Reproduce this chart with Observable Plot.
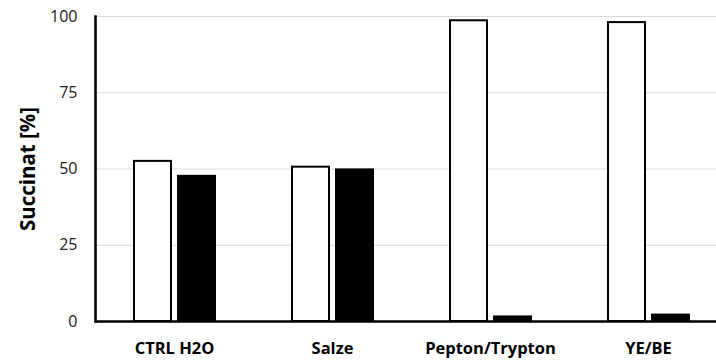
<!DOCTYPE html>
<html>
<head>
<meta charset="utf-8">
<script src="https://cdn.jsdelivr.net/npm/d3@7"></script>
<script src="https://cdn.jsdelivr.net/npm/@observablehq/plot@0.6"></script>
<style>
  html, body { margin: 0; padding: 0; background: #fff; overflow: hidden; }
</style>
</head>
<body>
<div id="chart"></div>
<script>
const categories = ["CTRL H2O", "Salze", "Pepton/Trypton", "YE/BE"];
const seriesNames = ["weiß", "schwarz"];
const whiteValues = [52.5, 50.6, 98.6, 98.0];
const blackValues = [47.6, 49.7, 1.5, 2.1];
const yTicks = [0, 25, 50, 75, 100];

const data = [];
categories.forEach((c, i) => {
  data.push({category: c, series: seriesNames[0], value: whiteValues[i]});
  data.push({category: c, series: seriesNames[1], value: blackValues[i]});
});

const chart = Plot.plot({
  width: 716,
  height: 361,
  marginLeft: 95,
  marginRight: -11,
  marginTop: 16,
  marginBottom: 40,
  style: {fontFamily: "'Open Sans', sans-serif", background: "#fff", overflow: "hidden"},
  fx: {domain: categories, padding: 0, label: null, axis: null},
  x: {domain: seriesNames, paddingInner: 0.16, paddingOuter: 0.875, axis: null},
  y: {domain: [0, 100], ticks: yTicks, label: null, axis: null},
  marks: [
    Plot.gridY(yTicks, {stroke: "#d9d9d9", strokeOpacity: 1, strokeWidth: 1}),
    Plot.barY(data, {
      fx: "category", x: "series", y: "value",
      fill: d => d.series === seriesNames[0] ? "#fff" : "#000",
      stroke: "#000", strokeWidth: 2
    }),
    Plot.ruleY([0], {stroke: "#000", strokeWidth: 2.4}),
    Plot.axisFx({anchor: "bottom", tickSize: 0, tickPadding: 21, label: null,
      fontSize: 16.5, fontWeight: "bold", fill: "#000"}),
    Plot.axisY(yTicks, {anchor: "left", tickSize: 0, tickPadding: 18, label: null,
      fontSize: 16, fill: "#222"}),
    Plot.frame({anchor: "left", facetAnchor: "left", stroke: "#000", strokeWidth: 2.6}),
    Plot.text(["Succinat [%]"], {frameAnchor: "left", facetAnchor: "left", textAnchor: "middle",
      dx: -67, rotate: -90, fontSize: 20.5, fontWeight: "bold", fill: "#000"})
  ]
});
document.getElementById("chart").appendChild(chart);
</script>
</body>
</html>
